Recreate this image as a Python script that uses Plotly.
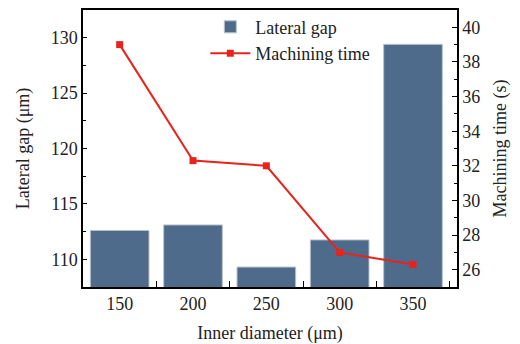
import plotly.graph_objects as go

diameters = ["150", "200", "250", "300", "350"]
lateral_gap = [112.6, 113.1, 109.3, 111.75, 129.4]
machining_time = [39.0, 32.3, 32.0, 27.0, 26.3]

FONT = "Liberation Serif, Times New Roman, serif"

fig = go.Figure()
fig.add_trace(go.Bar(
    x=diameters, y=lateral_gap, name="Lateral gap",
    marker=dict(color="#4e6b8c", line=dict(color="#b8c2cc", width=1)),
    width=0.8, yaxis="y",
))
fig.add_trace(go.Scatter(
    x=diameters, y=machining_time, name="Machining time",
    mode="lines+markers",
    line=dict(color="#e8231c", width=2),
    marker=dict(symbol="square", size=7, color="#e8231c"),
    yaxis="y2",
))

fig.update_layout(
    width=520, height=344,
    margin=dict(l=83, r=63, t=10, b=57, autoexpand=False),
    paper_bgcolor="white", plot_bgcolor="white",
    font=dict(family=FONT, size=18, color="#222"),
    showlegend=True,
    legend=dict(x=0.327, y=1.005, xanchor="left", yanchor="top",
                bgcolor="rgba(0,0,0,0)", font=dict(size=18, family=FONT),
                tracegroupgap=0, itemwidth=40),
    bargap=0.2,
    xaxis=dict(
        type="category", range=[-0.5, 4.6], automargin=False,
        showline=True, linecolor="black", linewidth=1.5, mirror=True,
        ticks="inside", tickson="boundaries", ticklen=6, tickcolor="black", showgrid=False,
        title=dict(text="Inner diameter (μm)", font=dict(size=18), standoff=14),
    ),
    yaxis=dict(
        range=[107.5, 132.5], tickvals=[110, 115, 120, 125, 130], automargin=False,
        showline=True, linecolor="black", linewidth=1.5,
        ticks="inside", ticklen=4, tickcolor="black", showgrid=False, zeroline=False,
        minor=dict(tickvals=[112.5, 117.5, 122.5, 127.5], ticks="inside", ticklen=3, tickcolor="black"),
        title=dict(text="Lateral gap (μm)", font=dict(size=18), standoff=16),
    ),
    yaxis2=dict(
        overlaying="y", side="right", automargin=False,
        range=[25, 41], tickvals=[26, 28, 30, 32, 34, 36, 38, 40],
        showline=True, linecolor="black", linewidth=1.5,
        ticks="inside", ticklen=5, tickcolor="black", showgrid=False, zeroline=False,
        minor=dict(tickvals=[25, 27, 29, 31, 33, 35, 37, 39], ticks="inside", ticklen=3, tickcolor="black"),
        title=dict(text="Machining time (s)", font=dict(size=18), standoff=14),
    ),
)

fig.write_html("out.html", config={"displayModeBar": False},
               post_script="document.body.style.margin='0';document.body.style.overflow='hidden';")
